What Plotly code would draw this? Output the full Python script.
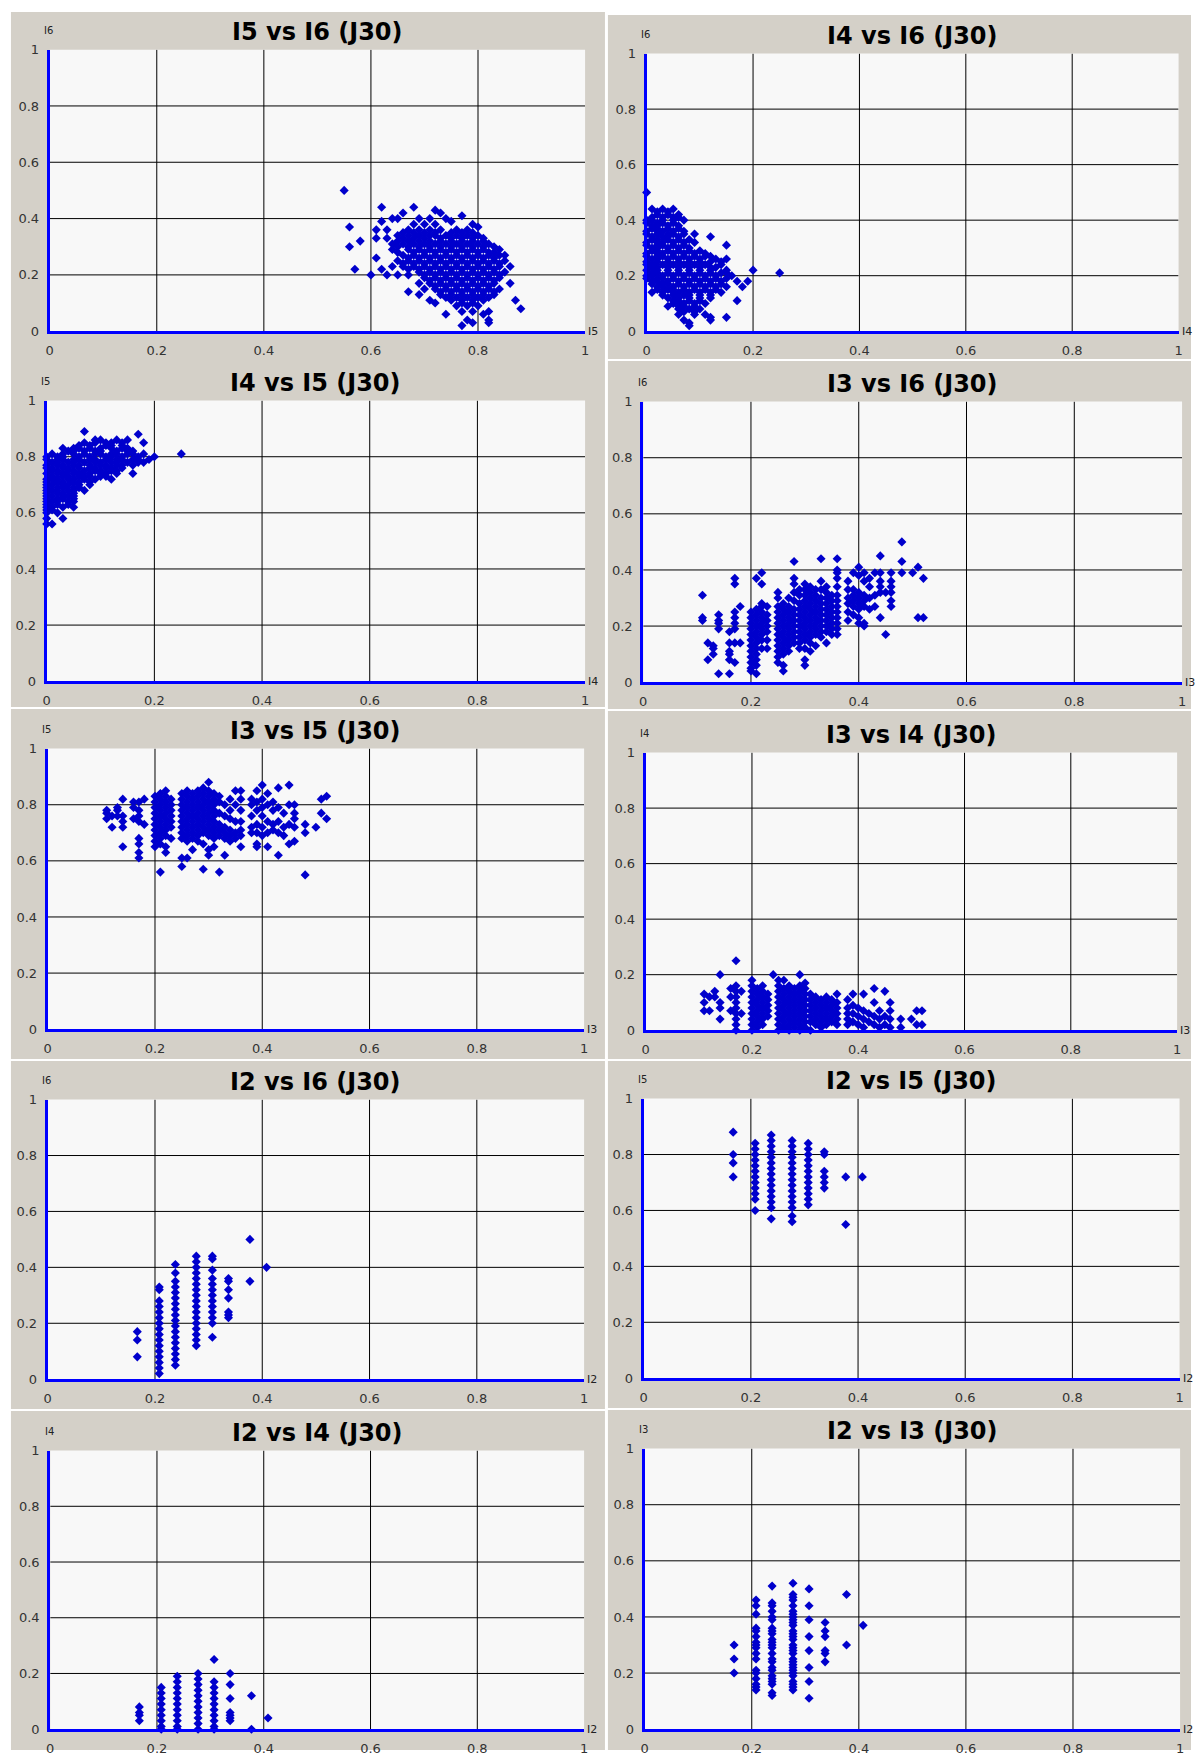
import plotly.graph_objects as go

# ---------------- data ----------------
TITLES = ["I5 vs I6 (J30)", "I4 vs I6 (J30)", "I4 vs I5 (J30)", "I3 vs I6 (J30)",
          "I3 vs I5 (J30)", "I3 vs I4 (J30)", "I2 vs I6 (J30)", "I2 vs I5 (J30)",
          "I2 vs I4 (J30)", "I2 vs I3 (J30)"]
X_NAMES = ["I5", "I4", "I4", "I3", "I3", "I3", "I2", "I2", "I2", "I2"]
Y_NAMES = ["I6", "I6", "I5", "I6", "I5", "I4", "I6", "I5", "I4", "I3"]
TICK_VALS = [0, 0.2, 0.4, 0.6, 0.8, 1]
TICK_TEXT = ["0", "0.2", "0.4", "0.6", "0.8", "1"]

# rows: (y, [x values])
I5_I6_rows = [
    (0.50, [0.55]), (0.44, [0.62, 0.68]), (0.43, [0.72]), (0.42, [0.66, 0.73]), (0.41, [0.77]),
    (0.40, [0.64, 0.65, 0.69, 0.71, 0.74]), (0.39, [0.62, 0.75]), (0.38, [0.68, 0.70, 0.72, 0.79]),
    (0.37, [0.56, 0.80]), (0.36, [0.61, 0.63, 0.67, 0.69, 0.71, 0.73, 0.76, 0.78]),
    (0.35, [0.66, 0.68, 0.70, 0.72, 0.75, 0.77, 0.79]),
    (0.34, [0.65, 0.67, 0.69, 0.71, 0.72, 0.74, 0.76, 0.78, 0.80]),
    (0.33, [0.61, 0.63, 0.66, 0.68, 0.70, 0.73, 0.75, 0.77, 0.79, 0.81]),
    (0.32, [0.58, 0.65, 0.67, 0.69, 0.71, 0.73, 0.75, 0.77, 0.79, 0.81]),
    (0.31, [0.64, 0.66, 0.68, 0.70, 0.72, 0.74, 0.76, 0.78, 0.80, 0.82]),
    (0.30, [0.56, 0.65, 0.67, 0.69, 0.71, 0.73, 0.75, 0.77, 0.79, 0.81, 0.83]),
    (0.29, [0.64, 0.67, 0.69, 0.71, 0.73, 0.75, 0.77, 0.79, 0.81, 0.84]),
    (0.28, [0.65, 0.68, 0.70, 0.72, 0.74, 0.76, 0.78, 0.80, 0.82, 0.83]),
    (0.27, [0.66, 0.68, 0.70, 0.72, 0.74, 0.76, 0.78, 0.80, 0.82, 0.84, 0.85]),
    (0.26, [0.61, 0.67, 0.69, 0.71, 0.73, 0.75, 0.77, 0.79, 0.81, 0.83]),
    (0.25, [0.65, 0.67, 0.69, 0.71, 0.73, 0.75, 0.77, 0.79, 0.81, 0.83, 0.85]),
    (0.24, [0.66, 0.68, 0.70, 0.72, 0.74, 0.76, 0.78, 0.80, 0.82, 0.84]),
    (0.23, [0.64, 0.66, 0.68, 0.70, 0.72, 0.74, 0.76, 0.78, 0.80, 0.82, 0.84, 0.86]),
    (0.22, [0.57, 0.62, 0.67, 0.69, 0.71, 0.73, 0.75, 0.77, 0.79, 0.81, 0.83]),
    (0.21, [0.69, 0.71, 0.73, 0.75, 0.77, 0.79, 0.81, 0.83, 0.85]),
    (0.20, [0.60, 0.63, 0.65, 0.67, 0.70, 0.72, 0.74, 0.76, 0.78, 0.80, 0.82, 0.84]),
    (0.19, [0.70, 0.72, 0.74, 0.76, 0.78, 0.80, 0.82, 0.84]),
    (0.18, [0.71, 0.73, 0.75, 0.77, 0.79, 0.81, 0.83]),
    (0.17, [0.69, 0.71, 0.73, 0.75, 0.77, 0.79, 0.81, 0.83, 0.86]),
    (0.16, [0.72, 0.74, 0.76, 0.78, 0.80, 0.82]),
    (0.15, [0.70, 0.72, 0.74, 0.76, 0.78, 0.80, 0.82, 0.84]),
    (0.14, [0.67, 0.73, 0.75, 0.77, 0.79, 0.81, 0.83]),
    (0.13, [0.69, 0.73, 0.75, 0.77, 0.79, 0.81, 0.83]),
    (0.12, [0.74, 0.76, 0.78, 0.80, 0.82]),
    (0.11, [0.71, 0.75, 0.77, 0.79, 0.81, 0.87]),
    (0.10, [0.72, 0.77, 0.79]), (0.09, [0.76, 0.78, 0.80]), (0.08, [0.88]), (0.07, [0.77, 0.79, 0.82]),
    (0.06, [0.74, 0.81]), (0.04, [0.78, 0.82]), (0.03, [0.79, 0.82]), (0.02, [0.77]),
]

I4_I6_rows = [
    (0.50, [0.0]), (0.44, [0.01, 0.03, 0.05]), (0.43, [0.02, 0.04]), (0.42, [0.02, 0.04, 0.06]),
    (0.41, [0.01, 0.03, 0.05, 0.06]), (0.40, [0.0, 0.01, 0.03, 0.05, 0.07]),
    (0.39, [0.0, 0.02, 0.03, 0.05]), (0.38, [0.01, 0.02, 0.04, 0.06]),
    (0.37, [0.01, 0.02, 0.04, 0.06]), (0.36, [0.0, 0.02, 0.03, 0.05, 0.07]),
    (0.35, [0.0, 0.02, 0.04, 0.05, 0.07, 0.09]), (0.34, [0.01, 0.03, 0.04, 0.06, 0.12]),
    (0.33, [0.01, 0.02, 0.04, 0.06, 0.08]), (0.32, [0.0, 0.02, 0.03, 0.05, 0.07, 0.09]),
    (0.31, [0.0, 0.02, 0.03, 0.05, 0.07, 0.15]), (0.30, [0.01, 0.02, 0.04, 0.06, 0.08]),
    (0.29, [0.01, 0.02, 0.04, 0.06, 0.08, 0.10]),
    (0.28, [0.0, 0.02, 0.03, 0.05, 0.07, 0.09, 0.11]),
    (0.27, [0.0, 0.02, 0.03, 0.05, 0.07, 0.09, 0.11, 0.12]),
    (0.26, [0.01, 0.02, 0.04, 0.06, 0.08, 0.10, 0.13, 0.15]),
    (0.25, [0.0, 0.02, 0.04, 0.06, 0.08, 0.10, 0.12, 0.14]),
    (0.24, [0.0, 0.01, 0.03, 0.05, 0.07, 0.09, 0.11, 0.14]),
    (0.23, [0.01, 0.02, 0.04, 0.06, 0.08, 0.10, 0.12, 0.13]),
    (0.22, [0.0, 0.02, 0.04, 0.06, 0.08, 0.10, 0.12, 0.15, 0.20]),
    (0.21, [0.01, 0.02, 0.04, 0.06, 0.08, 0.10, 0.12, 0.14, 0.15, 0.25]),
    (0.20, [0.0, 0.01, 0.03, 0.05, 0.07, 0.09, 0.11, 0.13, 0.16]),
    (0.19, [0.0, 0.02, 0.03, 0.05, 0.07, 0.09, 0.11, 0.13, 0.15]),
    (0.18, [0.01, 0.02, 0.04, 0.06, 0.08, 0.10, 0.12, 0.14, 0.17, 0.19]),
    (0.17, [0.01, 0.03, 0.04, 0.06, 0.08, 0.10, 0.12, 0.14]),
    (0.16, [0.02, 0.03, 0.05, 0.07, 0.09, 0.11, 0.13, 0.15, 0.18]),
    (0.15, [0.02, 0.04, 0.05, 0.07, 0.09, 0.11, 0.13]),
    (0.14, [0.01, 0.03, 0.05, 0.06, 0.08, 0.10, 0.12, 0.14]),
    (0.13, [0.03, 0.05, 0.07, 0.08, 0.10, 0.12]),
    (0.12, [0.04, 0.06, 0.08, 0.10, 0.12]), (0.11, [0.05, 0.06, 0.08, 0.10, 0.17]),
    (0.10, [0.05, 0.07, 0.09, 0.11]), (0.09, [0.04, 0.06, 0.07, 0.09]), (0.08, [0.06, 0.08, 0.10]),
    (0.07, [0.07, 0.09]), (0.06, [0.06, 0.09, 0.11]), (0.05, [0.12, 0.15]),
    (0.04, [0.07, 0.12]), (0.03, [0.08]), (0.02, [0.08]),
]

I4_I5_rows = [
    (0.89, [0.07]), (0.88, [0.17]), (0.86, [0.09, 0.10, 0.13, 0.15]),
    (0.85, [0.07, 0.09, 0.11, 0.12, 0.14, 0.18]),
    (0.84, [0.06, 0.08, 0.11, 0.12, 0.14]), (0.83, [0.03, 0.05, 0.06, 0.08, 0.10, 0.12, 0.14, 0.15]),
    (0.82, [0.04, 0.05, 0.07, 0.09, 0.10, 0.13, 0.15, 0.16]),
    (0.81, [0.01, 0.03, 0.05, 0.07, 0.09, 0.10, 0.12, 0.13, 0.15, 0.16, 0.18, 0.25]),
    (0.80, [0.0, 0.02, 0.03, 0.06, 0.08, 0.11, 0.12, 0.14, 0.17, 0.20]),
    (0.79, [0.0, 0.02, 0.03, 0.05, 0.06, 0.08, 0.09, 0.11, 0.13, 0.14, 0.16, 0.17, 0.19]),
    (0.78, [0.01, 0.02, 0.04, 0.05, 0.07, 0.09, 0.10, 0.12, 0.13, 0.15, 0.17, 0.18]),
    (0.77, [0.0, 0.02, 0.03, 0.05, 0.06, 0.08, 0.10, 0.11, 0.13, 0.14, 0.16]),
    (0.76, [0.0, 0.01, 0.03, 0.04, 0.06, 0.08, 0.09, 0.11, 0.12, 0.14]),
    (0.75, [0.01, 0.02, 0.04, 0.05, 0.07, 0.09, 0.10, 0.12, 0.13]),
    (0.74, [0.0, 0.02, 0.03, 0.05, 0.06, 0.08, 0.10, 0.11, 0.13, 0.16]),
    (0.73, [0.01, 0.03, 0.04, 0.06, 0.07, 0.08, 0.10, 0.11]),
    (0.72, [0.0, 0.01, 0.02, 0.04, 0.05, 0.07, 0.09, 0.12]),
    (0.71, [0.0, 0.02, 0.03, 0.05, 0.06, 0.08]),
    (0.70, [0.0, 0.01, 0.03, 0.04, 0.06, 0.08]), (0.69, [0.0, 0.02, 0.03, 0.05, 0.06]),
    (0.68, [0.0, 0.01, 0.02, 0.04, 0.05, 0.07]), (0.67, [0.0, 0.02, 0.03, 0.05]),
    (0.66, [0.0, 0.01, 0.03, 0.04, 0.05]), (0.65, [0.0, 0.02, 0.03, 0.05]),
    (0.64, [0.0, 0.01, 0.02, 0.04, 0.05]), (0.63, [0.0, 0.02, 0.04]),
    (0.62, [0.0, 0.01, 0.03, 0.05]), (0.61, [0.0, 0.01]), (0.60, [0.0, 0.02]),
    (0.58, [0.0, 0.03]), (0.56, [0.0, 0.01]),
]

# columns: (x, [y values])
I3_I6_cols = [
    (0.11, [0.31, 0.23, 0.22]), (0.12, [0.14, 0.08]), (0.13, [0.13, 0.10, 0.12]),
    (0.14, [0.24, 0.22, 0.19, 0.21, 0.03]), (0.16, [0.18, 0.14, 0.11, 0.08, 0.03, 0.10]),
    (0.17, [0.37, 0.35, 0.25, 0.23, 0.21, 0.19, 0.14, 0.07]), (0.18, [0.27, 0.14]),
    (0.20, [0.04, 0.05, 0.07, 0.09, 0.11, 0.13, 0.15, 0.17, 0.19, 0.21, 0.23, 0.25]),
    (0.21, [0.37, 0.03, 0.06, 0.08, 0.10, 0.12, 0.14, 0.16, 0.18, 0.20, 0.22, 0.24, 0.26]),
    (0.22, [0.39, 0.35, 0.28, 0.27, 0.25, 0.23, 0.21, 0.19, 0.17, 0.15, 0.12]),
    (0.23, [0.27, 0.24, 0.22, 0.20, 0.18, 0.15, 0.12]),
    (0.25, [0.32, 0.30, 0.27, 0.25, 0.23, 0.21, 0.19, 0.17, 0.15, 0.13, 0.11, 0.09, 0.07]),
    (0.26, [0.28, 0.26, 0.24, 0.22, 0.20, 0.18, 0.16, 0.14, 0.12, 0.10, 0.06, 0.04]),
    (0.27, [0.30, 0.27, 0.25, 0.23, 0.21, 0.19, 0.17, 0.15, 0.13, 0.11]),
    (0.28, [0.43, 0.37, 0.35, 0.32, 0.29, 0.26, 0.24, 0.22, 0.20, 0.18, 0.16, 0.14]),
    (0.29, [0.33, 0.31, 0.28, 0.26, 0.24, 0.22, 0.20, 0.18, 0.16, 0.14, 0.12]),
    (0.30, [0.35, 0.33, 0.31, 0.29, 0.27, 0.25, 0.23, 0.21, 0.19, 0.17, 0.15, 0.12, 0.08, 0.06]),
    (0.31, [0.34, 0.32, 0.30, 0.28, 0.26, 0.24, 0.22, 0.20, 0.18, 0.16, 0.14, 0.11]),
    (0.32, [0.33, 0.31, 0.29, 0.27, 0.25, 0.23, 0.21, 0.19, 0.17, 0.13]),
    (0.33, [0.44, 0.36, 0.33, 0.30, 0.28, 0.26, 0.24, 0.22, 0.20, 0.18, 0.16]),
    (0.34, [0.34, 0.32, 0.30, 0.28, 0.26, 0.24, 0.22, 0.20, 0.18, 0.14]),
    (0.35, [0.31, 0.29, 0.27, 0.25, 0.23, 0.21, 0.19, 0.17]),
    (0.36, [0.44, 0.40, 0.39, 0.37, 0.34, 0.31, 0.29, 0.27, 0.25, 0.23, 0.21, 0.19, 0.17]),
    (0.38, [0.36, 0.33, 0.30, 0.28, 0.25, 0.22]), (0.39, [0.39, 0.33, 0.31, 0.29, 0.27, 0.24]),
    (0.40, [0.41, 0.38, 0.32, 0.30, 0.28, 0.26, 0.23, 0.21]),
    (0.41, [0.39, 0.36, 0.31, 0.29, 0.27, 0.21, 0.20]), (0.42, [0.37, 0.34, 0.30, 0.26]),
    (0.43, [0.39, 0.31, 0.27]), (0.44, [0.45, 0.39, 0.36, 0.34, 0.32, 0.23]), (0.45, [0.32, 0.17]),
    (0.46, [0.39, 0.36, 0.34, 0.32, 0.29, 0.27]), (0.48, [0.50, 0.43, 0.39]), (0.50, [0.39]),
    (0.51, [0.41, 0.23]), (0.52, [0.37, 0.23]),
]

I3_I5_cols = [
    (0.11, [0.78, 0.75, 0.77]), (0.12, [0.72, 0.76]), (0.13, [0.79, 0.76, 0.78]),
    (0.14, [0.82, 0.72, 0.65, 0.76, 0.74]), (0.16, [0.81, 0.79, 0.75]),
    (0.17, [0.81, 0.78, 0.76, 0.74, 0.68, 0.66, 0.63, 0.61]), (0.18, [0.82, 0.73]),
    (0.20, [0.83, 0.81, 0.79, 0.77, 0.75, 0.73, 0.71, 0.69, 0.67, 0.65]),
    (0.21, [0.84, 0.82, 0.80, 0.78, 0.76, 0.74, 0.72, 0.70, 0.68, 0.66, 0.56]),
    (0.22, [0.85, 0.83, 0.81, 0.79, 0.77, 0.75, 0.73, 0.71, 0.69, 0.65, 0.63]),
    (0.23, [0.82, 0.80, 0.78, 0.76, 0.74, 0.72, 0.68]),
    (0.25, [0.84, 0.82, 0.80, 0.78, 0.76, 0.74, 0.72, 0.70, 0.68, 0.61, 0.58]),
    (0.26, [0.85, 0.83, 0.81, 0.79, 0.77, 0.75, 0.73, 0.71, 0.69, 0.67, 0.61]),
    (0.27, [0.84, 0.82, 0.80, 0.78, 0.76, 0.74, 0.72, 0.70, 0.68, 0.64]),
    (0.28, [0.85, 0.83, 0.81, 0.79, 0.77, 0.75, 0.73, 0.71, 0.69, 0.67]),
    (0.29, [0.86, 0.84, 0.82, 0.80, 0.78, 0.76, 0.74, 0.72, 0.70, 0.66, 0.57]),
    (0.30, [0.88, 0.85, 0.83, 0.81, 0.79, 0.77, 0.75, 0.73, 0.71, 0.69, 0.64, 0.62]),
    (0.31, [0.84, 0.82, 0.80, 0.78, 0.76, 0.74, 0.72, 0.70, 0.68, 0.65]),
    (0.32, [0.83, 0.81, 0.77, 0.73, 0.71, 0.69, 0.56]), (0.33, [0.80, 0.76, 0.72, 0.70, 0.68, 0.62]),
    (0.34, [0.82, 0.78, 0.75, 0.71, 0.69, 0.67]), (0.35, [0.85, 0.80, 0.74, 0.70, 0.68]),
    (0.36, [0.85, 0.82, 0.78, 0.74, 0.71, 0.69, 0.65]), (0.38, [0.82, 0.80, 0.76, 0.72, 0.70]),
    (0.39, [0.85, 0.81, 0.78, 0.73, 0.70, 0.66, 0.65]), (0.40, [0.87, 0.82, 0.79, 0.76, 0.72, 0.69]),
    (0.41, [0.84, 0.80, 0.74, 0.70, 0.65]), (0.42, [0.81, 0.78, 0.73, 0.71]),
    (0.43, [0.86, 0.79, 0.74, 0.70, 0.62]), (0.44, [0.77, 0.72, 0.69]), (0.45, [0.87, 0.80, 0.73, 0.66]),
    (0.46, [0.80, 0.77, 0.75, 0.72, 0.67]), (0.48, [0.73, 0.70, 0.55]), (0.50, [0.72]),
    (0.51, [0.82, 0.77]), (0.52, [0.83, 0.75]),
]

I3_I4_cols = [
    (0.11, [0.13, 0.10, 0.07]), (0.12, [0.07, 0.12]), (0.13, [0.14, 0.12]),
    (0.14, [0.20, 0.10, 0.08, 0.04]), (0.16, [0.15, 0.07, 0.12]),
    (0.17, [0.25, 0.16, 0.14, 0.12, 0.10, 0.08, 0.06, 0.04, 0.02, 0.0]), (0.18, [0.14, 0.06]),
    (0.20, [0.18, 0.16, 0.14, 0.12, 0.10, 0.08, 0.06, 0.04, 0.02, 0.0]),
    (0.21, [0.15, 0.13, 0.11, 0.09, 0.07, 0.05, 0.03, 0.01]),
    (0.22, [0.16, 0.14, 0.12, 0.10, 0.08, 0.06, 0.04, 0.02]),
    (0.23, [0.13, 0.11, 0.09, 0.07, 0.05]), (0.24, [0.20]),
    (0.25, [0.18, 0.16, 0.14, 0.12, 0.10, 0.08, 0.06, 0.04, 0.02, 0.0]),
    (0.26, [0.18, 0.15, 0.13, 0.11, 0.09, 0.07, 0.05, 0.03, 0.01]),
    (0.27, [0.16, 0.14, 0.12, 0.10, 0.08, 0.06, 0.04, 0.02, 0.0]),
    (0.28, [0.15, 0.13, 0.11, 0.09, 0.07, 0.05, 0.03, 0.01]),
    (0.29, [0.20, 0.16, 0.14, 0.12, 0.10, 0.08, 0.06, 0.04, 0.02, 0.0]),
    (0.30, [0.17, 0.15, 0.13, 0.11, 0.09, 0.07, 0.05, 0.03, 0.01]),
    (0.31, [0.13, 0.11, 0.09, 0.07, 0.05, 0.03, 0.0]), (0.32, [0.12, 0.10, 0.08, 0.06, 0.04, 0.02]),
    (0.33, [0.11, 0.09, 0.07, 0.05, 0.03, 0.01]), (0.34, [0.12, 0.10, 0.08, 0.06, 0.04, 0.02]),
    (0.35, [0.11, 0.09, 0.07, 0.05, 0.03]), (0.36, [0.13, 0.10, 0.08, 0.06, 0.04, 0.02]),
    (0.38, [0.11, 0.08, 0.06, 0.04, 0.02]), (0.39, [0.13, 0.09, 0.06, 0.03]),
    (0.40, [0.08, 0.05, 0.02]), (0.41, [0.13, 0.07, 0.04, 0.01]), (0.42, [0.06, 0.03]),
    (0.43, [0.15, 0.10, 0.05, 0.02]), (0.44, [0.07, 0.04, 0.01]), (0.45, [0.14, 0.05, 0.02]),
    (0.46, [0.10, 0.07, 0.04, 0.01]), (0.48, [0.04, 0.01]), (0.50, [0.04]),
    (0.51, [0.07, 0.02]), (0.52, [0.07, 0.02]),
]

I2_LEVELS = [0.167, 0.208, 0.238, 0.277, 0.307, 0.337, 0.377, 0.408]

I2_I6 = [
    [0.17, 0.14, 0.08],
    [0.33, 0.32, 0.28, 0.26, 0.24, 0.22, 0.20, 0.18, 0.16, 0.14, 0.12, 0.10, 0.08, 0.06, 0.04, 0.02],
    [0.41, 0.38, 0.35, 0.33, 0.31, 0.29, 0.27, 0.25, 0.23, 0.21, 0.19, 0.17, 0.15, 0.13, 0.11, 0.09, 0.07, 0.05],
    [0.44, 0.42, 0.40, 0.38, 0.36, 0.34, 0.32, 0.30, 0.28, 0.26, 0.24, 0.22, 0.20, 0.18, 0.16, 0.14, 0.12],
    [0.44, 0.43, 0.39, 0.36, 0.34, 0.32, 0.30, 0.28, 0.26, 0.24, 0.22, 0.20, 0.15],
    [0.36, 0.35, 0.32, 0.29, 0.24, 0.23, 0.22],
    [0.50, 0.35],
    [0.40],
]

I2_I5 = [
    [0.88, 0.80, 0.77, 0.72],
    [0.84, 0.82, 0.80, 0.78, 0.76, 0.74, 0.72, 0.70, 0.68, 0.66, 0.64, 0.60],
    [0.87, 0.85, 0.83, 0.81, 0.79, 0.77, 0.75, 0.73, 0.71, 0.69, 0.67, 0.65, 0.63, 0.61, 0.57],
    [0.85, 0.83, 0.81, 0.79, 0.77, 0.75, 0.73, 0.71, 0.69, 0.67, 0.65, 0.63, 0.61, 0.58, 0.56],
    [0.84, 0.82, 0.80, 0.78, 0.76, 0.74, 0.72, 0.70, 0.68, 0.66, 0.64, 0.62],
    [0.81, 0.80, 0.74, 0.72, 0.70, 0.68],
    [0.72, 0.55],
    [0.72],
]

I2_I4 = [
    [0.08, 0.06, 0.05, 0.03],
    [0.15, 0.13, 0.11, 0.09, 0.07, 0.05, 0.03, 0.01, 0.0],
    [0.19, 0.17, 0.15, 0.13, 0.11, 0.09, 0.07, 0.05, 0.03, 0.01, 0.0],
    [0.20, 0.18, 0.16, 0.14, 0.12, 0.10, 0.08, 0.06, 0.04, 0.02, 0.0],
    [0.25, 0.17, 0.15, 0.13, 0.11, 0.09, 0.07, 0.05, 0.03, 0.01, 0.0],
    [0.20, 0.16, 0.11, 0.06, 0.05, 0.04, 0.03],
    [0.12, 0.0],
    [0.04],
]

I2_I3 = [
    [0.30, 0.25, 0.20],
    [0.46, 0.44, 0.41, 0.36, 0.35, 0.33, 0.31, 0.30, 0.29, 0.27, 0.25, 0.21, 0.20, 0.18, 0.16, 0.15, 0.14],
    [0.51, 0.45, 0.44, 0.42, 0.40, 0.39, 0.36, 0.35, 0.34, 0.32, 0.31, 0.30, 0.29, 0.27, 0.25, 0.24,
     0.22, 0.21, 0.19, 0.18, 0.17, 0.16, 0.13, 0.12],
    [0.52, 0.48, 0.47, 0.46, 0.44, 0.42, 0.41, 0.40, 0.39, 0.38, 0.37, 0.35, 0.34, 0.33, 0.32, 0.30,
     0.29, 0.28, 0.27, 0.25, 0.24, 0.23, 0.22, 0.21, 0.20, 0.19, 0.17, 0.16, 0.15, 0.14],
    [0.50, 0.44, 0.39, 0.33, 0.28, 0.22, 0.17, 0.11],
    [0.38, 0.35, 0.33, 0.28, 0.27, 0.24],
    [0.48, 0.30],
    [0.37],
]


def from_rows(rows):
    xs, ys = [], []
    for y, xl in rows:
        for x in xl:
            xs.append(x)
            ys.append(y)
    return xs, ys


def from_cols(cols):
    xs, ys = [], []
    for x, yl in cols:
        for y in yl:
            xs.append(x)
            ys.append(y)
    return xs, ys


SERIES = [
    from_rows(I5_I6_rows), from_rows(I4_I6_rows), from_rows(I4_I5_rows),
    from_cols(I3_I6_cols), from_cols(I3_I5_cols), from_cols(I3_I4_cols),
    from_cols(list(zip(I2_LEVELS, I2_I6))), from_cols(list(zip(I2_LEVELS, I2_I5))),
    from_cols(list(zip(I2_LEVELS, I2_I4))), from_cols(list(zip(I2_LEVELS, I2_I3))),
]

# ---------------- layout (pixels) ----------------
W, H = 1195, 1758
# plot areas: x at value 0, x at value 1, y at value 1, y at value 0
PLOT_PX = [
    (46, 585, 43, 327), (647, 1182.5, 47, 327),
    (43, 585, 397, 680), (643.5, 1186, 398, 681),
    (44, 584, 748, 1031), (646, 1181, 752, 1032),
    (44, 584, 1102, 1384), (644, 1183.5, 1101, 1383),
    (46.5, 584, 1456, 1737), (645, 1184, 1454, 1737),
]
PANEL_PX = [
    (7, 605, 5, 352), (608, 1195, 8, 355),
    (7, 605, 352, 706), (608, 1195, 357, 708),
    (7, 605, 708, 1061), (608, 1195, 710, 1061),
    (7, 605, 1063, 1414), (608, 1195, 1063, 1413),
    (7, 605, 1416, 1758), (608, 1195, 1415, 1758),
]

PANEL_BG = "#d4d0c8"
PLOT_BG = "#f8f8f8"
AXIS_BLUE = "#0000ff"
MARK_BLUE = "#0000cc"
FONT = "DejaVu Sans, Verdana, sans-serif"


def px(xp):
    return xp / W


def py(yp):
    return 1 - yp / H


fig = go.Figure()
shapes = []
annotations = []

for (l, r, t, b) in PANEL_PX:
    shapes.append(dict(type="rect", xref="paper", yref="paper", x0=px(l), x1=px(r),
                       y0=py(b), y1=py(t), fillcolor=PANEL_BG, line=dict(width=0), layer="below"))
for (l, r, t, b) in PLOT_PX:
    shapes.append(dict(type="rect", xref="paper", yref="paper", x0=px(l), x1=px(r),
                       y0=py(b), y1=py(t), fillcolor=PLOT_BG, line=dict(width=0), layer="below"))

for i in range(10):
    n = i + 1
    xa = "xaxis" if n == 1 else f"xaxis{n}"
    ya = "yaxis" if n == 1 else f"yaxis{n}"
    xr = "x" if n == 1 else f"x{n}"
    yr = "y" if n == 1 else f"y{n}"
    l, r, t, b = PLOT_PX[i]
    common = dict(range=[0, 1], showgrid=False, zeroline=False, showline=True,
                  linecolor=AXIS_BLUE, linewidth=3, tickvals=TICK_VALS, ticktext=TICK_TEXT,
                  ticks="outside", ticklen=5, tickcolor="rgba(0,0,0,0)",
                  tickfont=dict(family=FONT, size=13, color="#333"), fixedrange=True)
    fig.layout[xa] = dict(domain=[px(l), px(r)], anchor=yr, **common)
    fig.layout[ya] = dict(domain=[py(b), py(t)], anchor=xr, **common)

    xs, ys = SERIES[i]
    fig.add_trace(go.Scatter(x=xs, y=ys, xaxis=xr, yaxis=yr, mode="markers",
                             marker=dict(symbol="diamond", size=7, color=MARK_BLUE, line=dict(width=0)),
                             cliponaxis=False, hoverinfo="skip", showlegend=False))

    for g in [0.2, 0.4, 0.6, 0.8]:
        shapes.append(dict(type="line", xref=xr, yref=yr, x0=g, x1=g, y0=0, y1=1,
                           line=dict(color="#000", width=1), layer="below"))
        shapes.append(dict(type="line", xref=xr, yref=yr, x0=0, x1=1, y0=g, y1=g,
                           line=dict(color="#000", width=1), layer="below"))

    annotations.append(dict(text="<b>" + TITLES[i] + "</b>", xref="paper", yref="paper",
                            x=px((l + r) / 2), y=py(t - 18), xanchor="center", yanchor="middle",
                            showarrow=False, font=dict(family=FONT, size=24, color="#000")))
    annotations.append(dict(text=Y_NAMES[i], xref="paper", yref="paper",
                            x=px(l - 1), y=py(t - 19), xanchor="center", yanchor="middle",
                            showarrow=False, font=dict(family=FONT, size=10, color="#222")))
    annotations.append(dict(text=X_NAMES[i], xref="paper", yref="paper",
                            x=px(r + 1), y=py(b), xanchor="left", yanchor="middle",
                            showarrow=False, font=dict(family=FONT, size=11, color="#222")))

fig.update_layout(width=W, height=H, margin=dict(l=0, r=0, t=0, b=0),
                  paper_bgcolor="#ffffff", plot_bgcolor="rgba(0,0,0,0)",
                  shapes=shapes, annotations=annotations, showlegend=False)

fig.write_html("out.html")
